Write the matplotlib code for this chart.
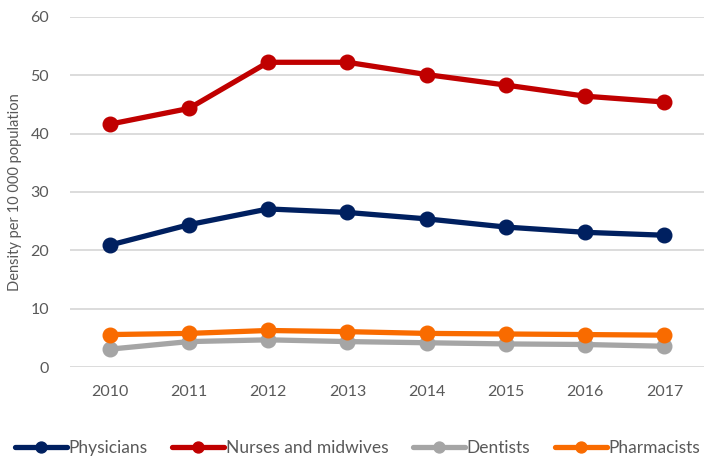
import numpy as np
import matplotlib.pyplot as plt

years = ["2010", "2011", "2012", "2013", "2014", "2015", "2016", "2017"]
physicians = [20.9, 24.4, 27.1, 26.5, 25.4, 24.0, 23.1, 22.6]
nurses = [41.6, 44.3, 52.2, 52.2, 50.1, 48.3, 46.4, 45.4]
dentists = [3.1, 4.4, 4.7, 4.4, 4.2, 4.0, 3.9, 3.6]
pharmacists = [5.6, 5.8, 6.3, 6.1, 5.8, 5.7, 5.6, 5.5]

labels = ["Physicians", "Nurses and midwives", "Dentists", "Pharmacists"]
colors = ["#002060", "#C00000", "#A5A5A5", "#F96B00"]

plt.rcParams['font.family'] = ['Lato', 'DejaVu Sans']
text_color = "#595959"

fig = plt.figure(figsize=(7.15, 4.59), dpi=100)
ax = fig.add_axes([0.0979, 0.1998, 0.8867, 0.7638])

x = np.arange(len(years))
series = [physicians, nurses, dentists, pharmacists]
# draw in order so orange sits above grey
for vals, lab, col in zip(series, labels, colors):
    ax.plot(x, vals, color=col, lw=3.8, marker="o", markersize=10.5,
            label=lab, solid_capstyle="round")

ax.set_xlim(-0.5, len(years) - 0.5)
ax.set_ylim(0, 60)
ax.set_yticks(range(0, 61, 10))
ax.set_xticks(x)
ax.set_xticklabels(years)
ax.grid(axis="y", color="#D9D9D9", lw=1.3)
ax.set_axisbelow(True)
for s in ax.spines.values():
    s.set_visible(False)
ax.tick_params(length=0, labelsize=11.5, colors=text_color)
ax.tick_params(axis="x", pad=13)
ax.tick_params(axis="y", pad=15)
ax.set_ylabel("Density per 10 000 population", fontsize=10.5, color=text_color, labelpad=6)

fig.legend(loc="center", bbox_to_anchor=(0.5, 0.024), ncol=4, frameon=False,
           fontsize=12.5, handlelength=3.0, columnspacing=1.4, handletextpad=0.1,
           markerscale=0.75, labelcolor=text_color, borderaxespad=0, borderpad=0)

plt.savefig("out.png", dpi=100)
